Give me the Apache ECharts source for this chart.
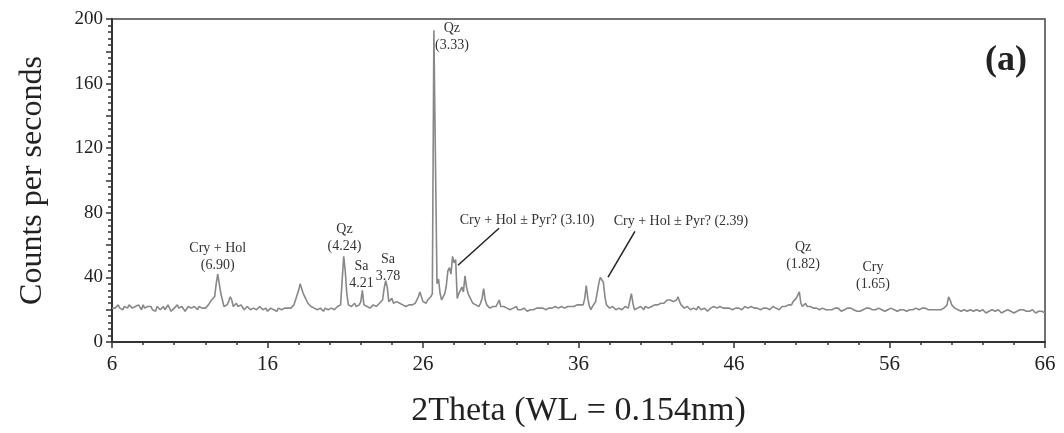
<!DOCTYPE html>
<html>
<head>
<meta charset="utf-8">
<script src="https://cdn.jsdelivr.net/npm/echarts@6/dist/echarts.min.js"></script>
<style>
html,body{margin:0;padding:0;background:#fff;}
#chart{width:1064px;height:433px;}
</style>
</head>
<body>
<div id="chart"></div>
<script>
const startTheta = 6.0;
const stepTheta = 0.1;
const counts = [
/* 6  */ 21,22,21,22,23,21,22,20,22,21,
/* 7  */ 21,23,22,21,20,22,21,23,22,20,
/* 8  */ 23,21,20,22,21,22,20,21,19,22,
/* 9  */ 22,20,21,22,20,21,23,21,19,20,
/* 10 */ 21,22,23,21,20,22,21,19,20,22,
/* 11 */ 22,21,20,22,21,20,22,23,21,20,
/* 12 */ 21,22,23,22,26,27,28,36,42,41,
/* 13 */ 30,26,22,23,23,25,28,26,22,23,
/* 14 */ 24,22,21,23,22,20,21,22,21,20,
/* 15 */ 19,21,21,20,20,22,21,20,19,21,
/* 16 */ 19,20,21,22,20,19,19,21,21,20,
/* 17 */ 20,21,22,21,20,21,21,23,26,29,
/* 18 */ 32,36,33,30,28,26,24,23,22,21,
/* 19 */ 21,20,20,21,21,20,19,21,21,20,
/* 20 */ 20,21,22,20,21,22,22,23,24,53,
/* 21 */ 44,30,23,22,22,21,24,22,21,23,
/* 22 */ 25,32,23,22,22,21,21,22,23,22,
/* 23 */ 22,23,24,25,26,33,38,34,25,26,
/* 24 */ 27,24,23,25,26,24,24,23,23,22,
/* 25 */ 22,23,24,23,23,24,25,28,31,32,
/* 26 */ 25,24,24,26,27,28,30,193,113,36,
/* 27 */ 39,30,26,27,30,35,44,46,42,53,
/* 28 */ 49,51,27,30,29,34,31,41,34,30,
/* 29 */ 28,26,24,24,23,22,22,24,27,33,
/* 30 */ 26,23,22,21,21,22,23,22,24,26,
/* 31 */ 22,21,22,23,21,21,20,20,21,22,
/* 32 */ 22,20,19,20,21,21,20,19,19,20,
/* 33 */ 21,20,20,21,22,21,20,21,21,20,
/* 34 */ 20,21,22,21,21,22,23,21,21,22,
/* 35 */ 22,21,21,22,23,22,21,22,22,23,
/* 36 */ 24,23,22,23,27,35,27,22,20,22,
/* 37 */ 23,25,26,36,40,39,37,28,23,22,
/* 38 */ 21,22,22,21,20,21,21,22,20,21,
/* 39 */ 22,21,21,22,30,24,20,21,21,22,
/* 40 */ 22,21,20,22,23,21,21,22,22,23,
/* 41 */ 24,23,22,24,25,24,24,26,27,26,
/* 42 */ 26,25,24,26,28,25,23,22,21,22,
/* 43 */ 22,21,20,21,21,20,20,22,21,20,
/* 44 */ 20,21,21,19,19,21,21,22,22,21,
/* 45 */ 21,22,23,21,20,21,22,21,21,20,
/* 46 */ 20,21,22,21,21,20,20,22,22,21,
/* 47 */ 21,22,23,21,20,21,21,20,20,21,
/* 48 */ 22,21,21,20,20,22,22,21,21,20,
/* 49 */ 20,22,23,22,22,23,24,23,25,26,
/* 50 */ 27,29,31,24,22,23,24,22,21,22,
/* 51 */ 22,21,20,21,21,20,20,21,20,20,
/* 52 */ 21,20,20,20,20,21,22,21,20,19,
/* 53 */ 19,20,20,21,22,21,21,20,20,19,
/* 54 */ 19,19,19,20,20,21,22,21,20,20,
/* 55 */ 21,20,20,21,21,20,20,19,19,20,
/* 56 */ 20,21,21,20,20,19,19,20,21,20,
/* 57 */ 20,19,19,20,21,20,20,21,21,20,
/* 58 */ 20,21,22,21,20,20,21,20,19,20,
/* 59 */ 20,20,21,20,20,21,22,23,28,26,
/* 60 */ 23,22,21,20,20,20,19,19,20,20,
/* 61 */ 19,20,20,19,19,20,20,19,19,20,
/* 62 */ 20,19,18,19,19,20,20,19,19,20,
/* 63 */ 20,19,18,19,19,20,20,20,19,19,
/* 64 */ 18,19,19,20,20,20,20,19,19,19,
/* 65 */ 19,20,20,19,18,19,19,19,19,18,
/* 66 */ 18
];

const xTicks = [6, 16, 26, 36, 46, 56, 66];
const yTicks = [0, 40, 80, 120, 160, 200];

// Peak annotations: text lines anchored at [2Theta, counts]
const annotations = [
  {at:[12.8, 58], lines:['Cry + Hol', '(6.90)']},
  {at:[20.95, 70], lines:['Qz', '(4.24)']},
  {at:[22.05, 47], lines:['Sa', '4.21']},
  {at:[23.75, 51], lines:['Sa', '3.78']},
  {at:[27.86, 194], lines:['Qz', '(3.33)']},
  {at:[32.69, 75.5], lines:['Cry + Hol \u00b1 Pyr? (3.10)']},
  {at:[42.59, 74.7], lines:['Cry + Hol \u00b1 Pyr? (2.39)']},
  {at:[50.44, 58.6], lines:['Qz', '(1.82)']},
  {at:[54.94, 46.3], lines:['Cry', '(1.65)']}
];
// Leader lines: from [2Theta, counts] to [2Theta, counts]
const leaders = [
  [[30.89, 70.4], [28.25, 47.5]],
  [[39.63, 68.5], [37.9, 40.1]]
];

const pattern = counts.map((c, i) => [Math.round((startTheta + i * stepTheta) * 10) / 10, c]);

const chart = echarts.init(document.getElementById('chart'), null, {renderer:'canvas'});
const serif = '"Liberation Serif", "DejaVu Serif", serif';

chart.setOption({
  animation: false,
  grid: {left:112, right:19, top:19, bottom:90, show:true, borderColor:'#444', borderWidth:1.5, backgroundColor:'transparent'},
  xAxis: {
    type:'value', min:6, max:66, interval:10,
    name:'2Theta (WL = 0.154nm)', nameLocation:'middle', nameGap:52,
    nameTextStyle:{fontFamily:serif, fontSize:34, color:'#222'},
    axisLine:{show:true, onZero:false, lineStyle:{color:'#333', width:2}},
    axisTick:{show:true, length:6, lineStyle:{color:'#333', width:1.5}},
    minorTick:{show:true, splitNumber:5, length:3, lineStyle:{color:'#333', width:1.5}},
    splitLine:{show:false},
    axisLabel:{fontFamily:serif, fontSize:21, color:'#222', margin:12,
      formatter: v => xTicks.includes(v) ? String(v) : ''}
  },
  yAxis: {
    type:'value', min:0, max:200, interval:20,
    name:'Counts per seconds', nameLocation:'middle', nameGap:63,
    nameTextStyle:{fontFamily:serif, fontSize:32, color:'#222'},
    axisLine:{show:true, lineStyle:{color:'#333', width:2}},
    axisTick:{show:true, length:6, lineStyle:{color:'#333', width:1.5}},
    minorTick:{show:true, splitNumber:5, length:4, lineStyle:{color:'#333', width:1.5}},
    splitLine:{show:false},
    axisLabel:{fontFamily:serif, fontSize:19, color:'#222', margin:9,
      formatter: v => yTicks.includes(v) ? String(v) : ''}
  },
  series: [{
    type:'line', data:pattern, showSymbol:false, symbol:'none',
    lineStyle:{color:'#888', width:1.6}, silent:true
  }]
});

function buildGraphics(){
  const els = [];
  annotations.forEach(a => {
    const p = chart.convertToPixel({gridIndex:0}, a.at);
    a.lines.forEach((t, i) => {
      els.push({type:'text', x:p[0], y:p[1] + i*17, silent:true,
        style:{text:t, fontFamily:serif, fontSize:14, fill:'#333', align:'center', verticalAlign:'middle'}});
    });
  });
  leaders.forEach(l => {
    const a = chart.convertToPixel({gridIndex:0}, l[0]);
    const b = chart.convertToPixel({gridIndex:0}, l[1]);
    els.push({type:'line', silent:true, shape:{x1:a[0], y1:a[1], x2:b[0], y2:b[1]},
      style:{stroke:'#222', lineWidth:1.5}});
  });
  els.push({type:'text', right:37, top:43, silent:true,
    style:{text:'(a)', fontFamily:serif, fontSize:36, fontWeight:'bold', fill:'#222'}});
  chart.setOption({graphic: els});
}
buildGraphics();
</script>
</body>
</html>
